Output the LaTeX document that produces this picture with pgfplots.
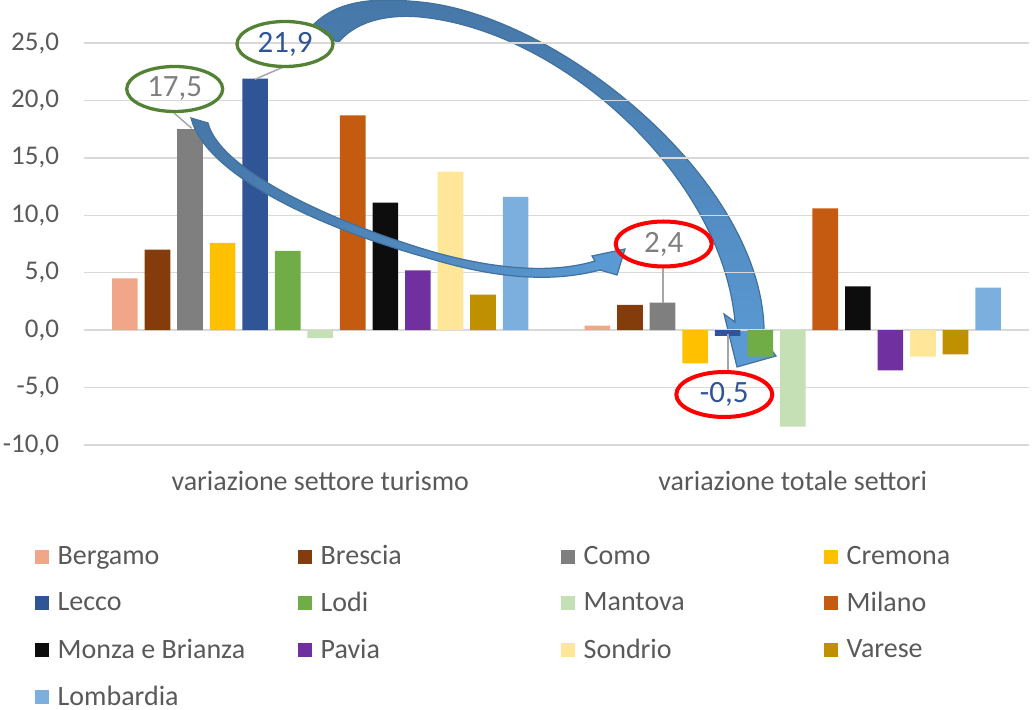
\documentclass[border=0pt]{standalone}
\usepackage{fontspec}
\setmainfont{Carlito}
\usepackage{pgfplots}
\pgfplotsset{compat=1.18}
\usetikzlibrary{shapes.geometric,calc}
\definecolor{cBergamo}{HTML}{F1A589}
\definecolor{cBrescia}{HTML}{843C0C}
\definecolor{cComo}{HTML}{7F7F7F}
\definecolor{cCremona}{HTML}{FFC000}
\definecolor{cLecco}{HTML}{2F5597}
\definecolor{cLodi}{HTML}{70AD47}
\definecolor{cMantova}{HTML}{C5E0B4}
\definecolor{cMilano}{HTML}{C55A11}
\definecolor{cMonza}{HTML}{0D0D0D}
\definecolor{cPavia}{HTML}{7030A0}
\definecolor{cSondrio}{HTML}{FFE699}
\definecolor{cVarese}{HTML}{BF9000}
\definecolor{cLomb}{HTML}{7CAFDD}
\definecolor{gridgrey}{HTML}{D9D9D9}
\definecolor{txtgrey}{HTML}{595959}
\definecolor{leadgrey}{HTML}{A6A6A6}
\definecolor{ellgreen}{HTML}{548235}
\definecolor{darkarrow}{HTML}{4677A8}
\definecolor{lightarrow}{HTML}{5B9BD5}
\definecolor{arrowborder}{HTML}{41719C}
\pgfplotsset{sqlegend/.style={legend image code/.code={\fill[##1] (0pt,-3.5pt) rectangle (7pt,3.5pt); \path (9.35pt,0pt);}}}
\begin{document}
\begin{tikzpicture}
% big curved arrow (behind the chart)
\begin{scope}[xshift=-42pt, yshift=21.5pt, x=0.5pt, y=-0.5pt]
  \path[draw=arrowborder, line width=0.6pt, top color=darkarrow, middle color=darkarrow, bottom color=lightarrow]
    (313,25) .. controls (340,-2) and (380,-2) .. (420,2)
    .. controls (560,15) and (770,185) .. (764,340)
    -- (776,356) -- (737,367) -- (724,314) -- (735,322)
    .. controls (722,175) and (560,30) .. (420,17)
    .. controls (385,14) and (355,22) .. (338,43) -- cycle;
\end{scope}
\begin{axis}[
  at={(0pt,0pt)}, anchor=north west,
  scale only axis, width=472.5pt, height=201pt,
  xmin=-0.5, xmax=1.5, ymin=-10, ymax=25,
  ytick={-10,-5,0,5,10,15,20,25},
  xtick={0,1},
  xticklabels={variazione settore turismo, variazione totale settori},
  axis line style={draw=none},
  major tick length=0pt,
  ymajorgrids, grid style={draw=gridgrey, line width=0.75pt},
  ybar, bar width=0.0543,
  clip=false,
  tick label style={font=\fontsize{13.5}{16}\selectfont, text=txtgrey},
  yticklabel style={xshift=-9pt, /pgf/number format/.cd, fixed, fixed zerofill, precision=1, use comma, assume math mode=true},
  xticklabel style={yshift=-9.5pt, font=\fontsize{14}{17}\selectfont},
  legend columns=4,
  legend cell align=left,
  legend style={draw=none, fill=none, at={(0,0)}, anchor=north west, xshift=-24.7pt, yshift=-48pt,
    font=\fontsize{14}{17}\selectfont, text=txtgrey, inner sep=0pt, row sep=8.25pt,
    /tikz/every even column/.append style={column sep=0pt}},
]
\addplot[fill=cBergamo, draw=none, bar shift=-0.4134, sqlegend] coordinates {(0,4.5) (1,0.4)};
\addlegendentry{\makebox[118.15pt][l]{Bergamo}}
\addplot[fill=cBrescia, draw=none, bar shift=-0.3445, sqlegend] coordinates {(0,7.0) (1,2.2)};
\addlegendentry{\makebox[118.15pt][l]{Brescia}}
\addplot[fill=cComo, draw=none, bar shift=-0.2756, sqlegend] coordinates {(0,17.5) (1,2.4)};
\addlegendentry{\makebox[118.15pt][l]{Como}}
\addplot[fill=cCremona, draw=none, bar shift=-0.2067, sqlegend] coordinates {(0,7.6) (1,-2.9)};
\addlegendentry{\makebox[118.15pt][l]{Cremona}}
\addplot[fill=cLecco, draw=none, bar shift=-0.1378, sqlegend] coordinates {(0,21.9) (1,-0.5)};
\addlegendentry{\makebox[118.15pt][l]{Lecco}}
\addplot[fill=cLodi, draw=none, bar shift=-0.0689, sqlegend] coordinates {(0,6.9) (1,-2.3)};
\addlegendentry{\makebox[118.15pt][l]{Lodi}}
\addplot[fill=cMantova, draw=none, bar shift=0, sqlegend] coordinates {(0,-0.7) (1,-8.4)};
\addlegendentry{\makebox[118.15pt][l]{Mantova}}
\addplot[fill=cMilano, draw=none, bar shift=0.0689, sqlegend] coordinates {(0,18.7) (1,10.6)};
\addlegendentry{\makebox[118.15pt][l]{Milano}}
\addplot[fill=cMonza, draw=none, bar shift=0.1378, sqlegend] coordinates {(0,11.1) (1,3.8)};
\addlegendentry{\makebox[118.15pt][l]{Monza e Brianza}}
\addplot[fill=cPavia, draw=none, bar shift=0.2067, sqlegend] coordinates {(0,5.2) (1,-3.5)};
\addlegendentry{\makebox[118.15pt][l]{Pavia}}
\addplot[fill=cSondrio, draw=none, bar shift=0.2756, sqlegend] coordinates {(0,13.8) (1,-2.3)};
\addlegendentry{\makebox[118.15pt][l]{Sondrio}}
\addplot[fill=cVarese, draw=none, bar shift=0.3445, sqlegend] coordinates {(0,3.1) (1,-2.1)};
\addlegendentry{\makebox[118.15pt][l]{Varese}}
\addplot[fill=cLomb, draw=none, bar shift=0.4134, sqlegend] coordinates {(0,11.6) (1,3.7)};
\addlegendentry{\makebox[118.15pt][l]{Lombardia}}
\end{axis}
\begin{scope}[xshift=-42pt, yshift=21.5pt, x=0.5pt, y=-0.5pt]
  % leader lines
  \draw[leadgrey, line width=0.75pt] (174,113) -- (191.7,128.3);
  \draw[leadgrey, line width=0.75pt] (285.7,66) -- (255,79.3);
  \draw[leadgrey, line width=0.75pt] (663,267) -- (663,303);
  \draw[leadgrey, line width=0.75pt] (728,334) -- (728,372);
  % thin curved arrow
  \path[draw=arrowborder, line width=0.6pt, left color=darkarrow, middle color=darkarrow, right color=lightarrow]
    (208,123) .. controls (220,170) and (330,221) .. (430,251)
    .. controls (500,271) and (555,273) .. (595,261)
    -- (592,256) -- (625,249) -- (617,275) -- (600,270)
    .. controls (555,282) and (500,280) .. (428,258)
    .. controls (320,228) and (205,175) .. (191,118) -- cycle;
  % ellipses with labels
  \node[ellipse, draw=ellgreen, line width=1.65pt, minimum width=48pt, minimum height=22.5pt, inner sep=0pt,
        text=cComo, font=\fontsize{15.5}{18}\selectfont] at (174.7,89) {17,5};
  \node[ellipse, draw=ellgreen, line width=1.65pt, minimum width=48pt, minimum height=22.5pt, inner sep=0pt,
        text=cLecco, font=\fontsize{15.5}{18}\selectfont] at (285,44) {21,9};
  \node[ellipse, draw=red, line width=2pt, minimum width=48pt, minimum height=22.5pt, inner sep=0pt,
        text=cComo, font=\fontsize{15.5}{18}\selectfont] at (663.7,244) {2,4};
  \node[ellipse, draw=red, line width=2pt, minimum width=48pt, minimum height=22.5pt, inner sep=0pt,
        text=cLecco, font=\fontsize{15.5}{18}\selectfont] at (724.3,394.5) {-0,5};
  \pgfresetboundingbox
  \path (0,0) rectangle (1033,710);
\end{scope}
\end{tikzpicture}
\end{document}
